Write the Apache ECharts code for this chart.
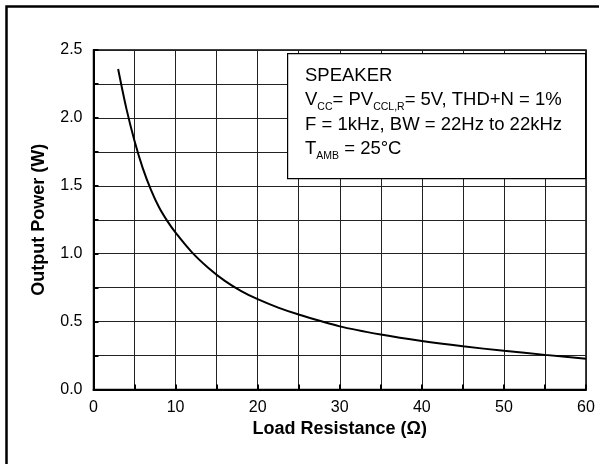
<!DOCTYPE html>
<html><head><meta charset="utf-8">
<script src="https://cdn.jsdelivr.net/npm/echarts@6/dist/echarts.min.js"></script>
<style>html,body{margin:0;padding:0;background:#fff}#c{width:599px;height:464px}</style>
</head><body><div id="c"></div>
<script>
// Load resistance (ohm)
const resistance = [3, 4, 5, 6, 7, 8, 9, 10, 12, 14, 16, 18, 20, 22.5, 25, 30, 35, 40, 45, 50, 55, 60];
// Output power (W)
const power = [2.36, 2.07, 1.83, 1.63, 1.47, 1.34, 1.24, 1.155, 1.01, 0.895, 0.80, 0.725, 0.665, 0.603, 0.552, 0.465, 0.405, 0.357, 0.318, 0.285, 0.255, 0.226];
const xLabelTicks = [0, 10, 20, 30, 40, 50, 60];
const yLabelTicks = [0.0, 0.5, 1.0, 1.5, 2.0, 2.5];

const FONT = '"Liberation Sans", Arial, Helvetica, sans-serif';
const chart = echarts.init(document.getElementById('c'), null, {renderer: 'canvas'});

const near = (v, arr) => arr.some(t => Math.abs(t - v) < 1e-6);

chart.setOption({
  animation: false,
  backgroundColor: '#fff',
  grid: {left: 93.5, right: 13, top: 50, bottom: 74.5, outerBoundsMode: 'none',
         show: true, borderColor: '#000', borderWidth: 1.5},
  xAxis: {
    type: 'value', min: 0, max: 60, interval: 5,
    name: 'Load Resistance (\u03A9)', nameLocation: 'middle', nameGap: 29,
    nameTextStyle: {fontFamily: FONT, fontWeight: 'bold', fontSize: 18, color: '#000'},
    axisLine: {show: true, lineStyle: {color: '#000', width: 2}},
    axisTick: {show: true, inside: true, length: 5, lineStyle: {color: '#000', width: 2}},
    axisLabel: {fontFamily: FONT, fontSize: 16, color: '#000', margin: 10,
      formatter: v => near(v, xLabelTicks) ? String(v) : ''},
    splitLine: {show: true, lineStyle: {color: '#222', width: 1}}
  },
  yAxis: {
    type: 'value', min: 0, max: 2.5, interval: 0.25,
    name: 'Output Power (W)', nameLocation: 'middle', nameGap: 45, nameRotate: 90,
    nameTextStyle: {fontFamily: FONT, fontWeight: 'bold', fontSize: 18, color: '#000'},
    axisLine: {show: true, lineStyle: {color: '#000', width: 2}},
    axisTick: {show: true, inside: true, length: 5, lineStyle: {color: '#000', width: 2}},
    axisLabel: {fontFamily: FONT, fontSize: 16, color: '#000', margin: 11,
      formatter: v => near(v, yLabelTicks) ? v.toFixed(1) : ''},
    splitLine: {show: true, lineStyle: {color: '#222', width: 1}}
  },
  series: [{
    type: 'line', smooth: 0.3, showSymbol: false, symbol: 'none',
    lineStyle: {color: '#000', width: 2},
    data: resistance.map((r, i) => [r, power[i]]),
    z: 3
  }],
  graphic: [
    {type: 'rect', left: 4, top: 4, z: 100, silent: true,
     shape: {width: 700, height: 700},
     style: {fill: 'none', stroke: '#000', lineWidth: 2.5}},
    {type: 'rect', left: 287, top: 53, z: 50, silent: true,
     shape: {width: 298, height: 125},
     style: {fill: '#fff', stroke: '#000', lineWidth: 1.2}},
    {type: 'text', left: 305, top: 66, z: 51, silent: true,
     style: {
       text: '{t|SPEAKER}\n{t|V}{s|CC}{t|= PV}{s|CCL,R}{t|= 5V, THD+N = 1%}\n{t|F = 1kHz, BW = 22Hz to 22kHz}\n{t|T}{s|AMB}{t| = 25\u00B0C}',
       rich: {
         t: {fontFamily: FONT, fontSize: 18.5, lineHeight: 24.5, fill: '#000'},
         s: {fontFamily: FONT, fontSize: 10.5, lineHeight: 13, verticalAlign: 'bottom', fill: '#000'}
       }
     }}
  ]
});
</script></body></html>
